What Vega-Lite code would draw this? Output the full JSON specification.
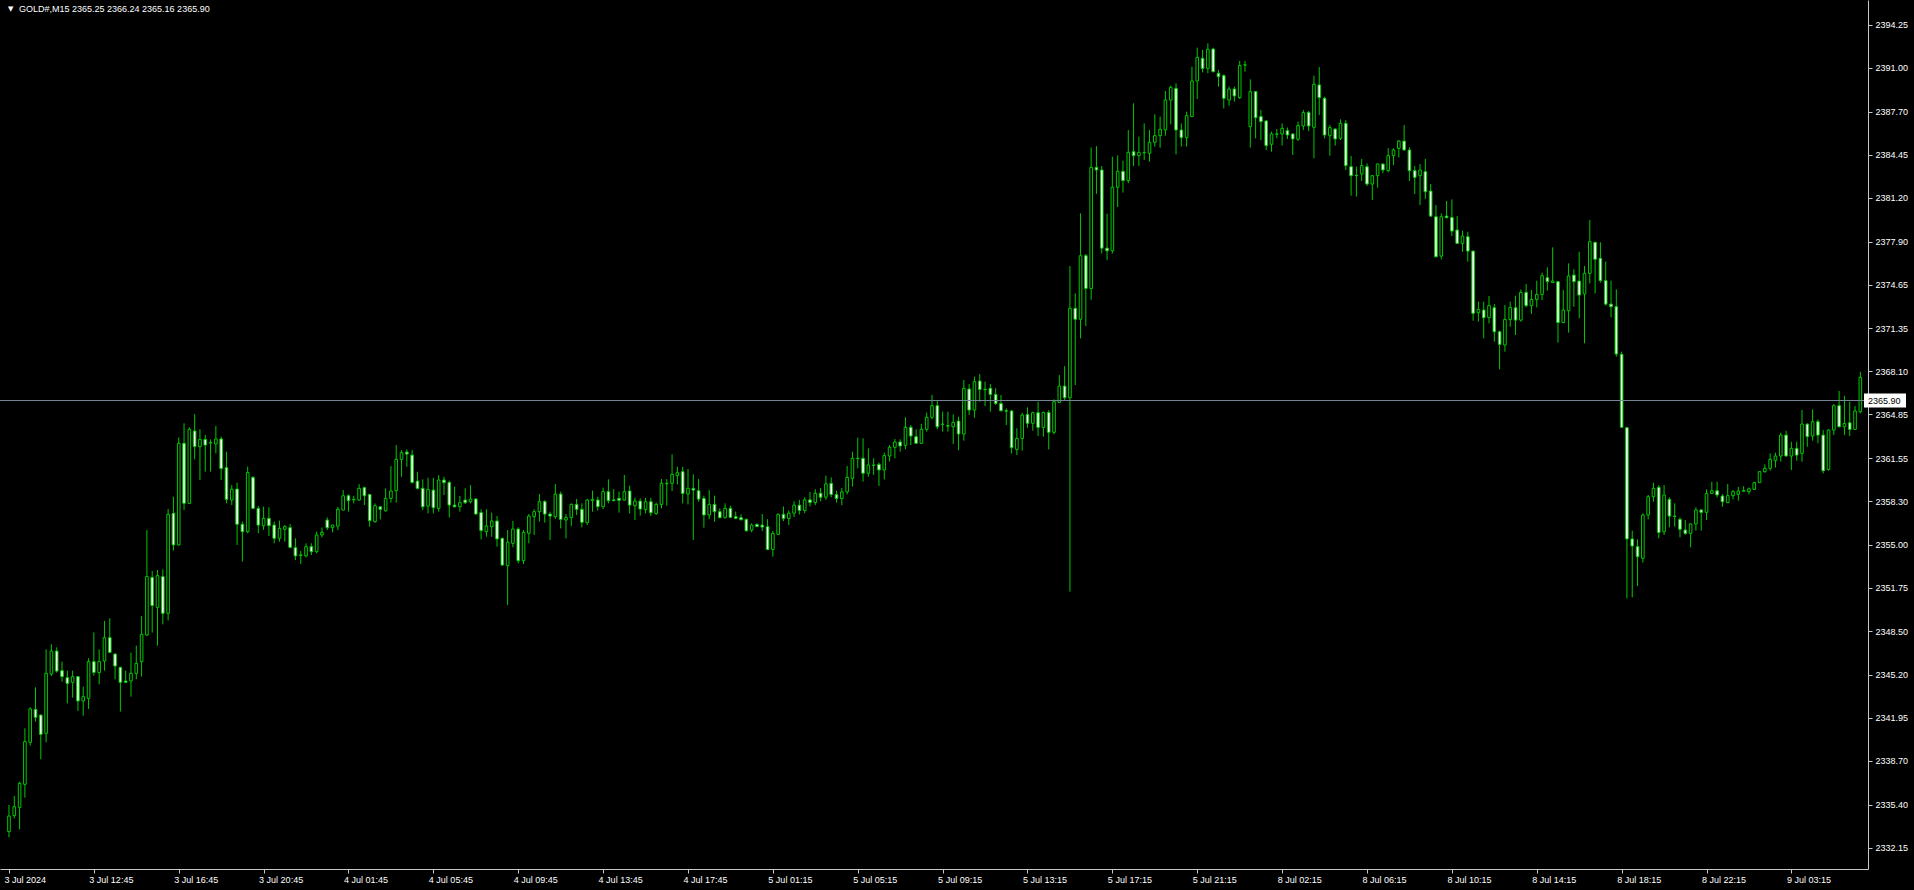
{
"$schema": "https://vega.github.io/schema/vega-lite/v6.json",
"width": 1868, "height": 869,
"autosize": {"type": "none"},
"padding": {"left": 0, "top": 0, "right": 46, "bottom": 21},
"background": "#000000",
"config": {"view": {"stroke": null}, "font": "Liberation Sans"},
"data": {"values": [
{"i":0,"o":2333.36,"h":2335.37,"l":2332.93,"c":2334.54},
{"i":1,"o":2334.57,"h":2336.05,"l":2334.36,"c":2335.24},
{"i":2,"o":2335.19,"h":2337.13,"l":2333.53,"c":2337.01},
{"i":3,"o":2336.93,"h":2341.16,"l":2335.92,"c":2340.15},
{"i":4,"o":2340.10,"h":2342.74,"l":2339.85,"c":2342.62},
{"i":5,"o":2342.59,"h":2344.25,"l":2341.66,"c":2341.99},
{"i":6,"o":2342.16,"h":2342.20,"l":2338.82,"c":2340.70},
{"i":7,"o":2340.78,"h":2347.12,"l":2340.10,"c":2345.31},
{"i":8,"o":2345.26,"h":2347.50,"l":2345.11,"c":2346.99},
{"i":9,"o":2346.99,"h":2347.27,"l":2345.36,"c":2345.48},
{"i":10,"o":2345.51,"h":2346.19,"l":2344.68,"c":2345.06},
{"i":11,"o":2344.98,"h":2345.51,"l":2343.04,"c":2344.55},
{"i":12,"o":2344.63,"h":2345.51,"l":2343.47,"c":2345.06},
{"i":13,"o":2345.06,"h":2345.11,"l":2342.47,"c":2343.22},
{"i":14,"o":2343.22,"h":2344.30,"l":2342.11,"c":2343.55},
{"i":15,"o":2343.42,"h":2346.44,"l":2342.62,"c":2346.19},
{"i":16,"o":2346.19,"h":2348.40,"l":2345.13,"c":2345.38},
{"i":17,"o":2345.36,"h":2347.12,"l":2344.48,"c":2346.19},
{"i":18,"o":2346.24,"h":2349.26,"l":2345.51,"c":2348.00},
{"i":19,"o":2348.00,"h":2349.46,"l":2346.85,"c":2346.89},
{"i":20,"o":2346.77,"h":2346.80,"l":2344.86,"c":2345.86},
{"i":21,"o":2345.76,"h":2345.80,"l":2342.42,"c":2344.63},
{"i":22,"o":2344.73,"h":2345.51,"l":2344.60,"c":2344.63},
{"i":23,"o":2344.73,"h":2346.87,"l":2343.55,"c":2345.31},
{"i":24,"o":2345.31,"h":2347.40,"l":2344.86,"c":2346.06},
{"i":25,"o":2346.19,"h":2349.64,"l":2345.06,"c":2348.25},
{"i":26,"o":2348.20,"h":2356.13,"l":2348.13,"c":2352.61},
{"i":27,"o":2352.55,"h":2353.03,"l":2348.38,"c":2350.42},
{"i":28,"o":2350.29,"h":2353.11,"l":2347.40,"c":2352.68},
{"i":29,"o":2352.61,"h":2353.16,"l":2349.01,"c":2349.84},
{"i":30,"o":2349.84,"h":2357.71,"l":2349.30,"c":2357.31},
{"i":31,"o":2357.39,"h":2358.64,"l":2354.57,"c":2355.00},
{"i":32,"o":2355.00,"h":2363.12,"l":2354.95,"c":2362.67},
{"i":33,"o":2362.67,"h":2364.18,"l":2357.64,"c":2358.14},
{"i":34,"o":2358.14,"h":2363.88,"l":2358.09,"c":2363.73},
{"i":35,"o":2363.60,"h":2364.88,"l":2361.46,"c":2362.42},
{"i":36,"o":2362.42,"h":2363.73,"l":2359.90,"c":2362.97},
{"i":37,"o":2362.97,"h":2363.30,"l":2360.53,"c":2362.54},
{"i":38,"o":2362.72,"h":2362.97,"l":2360.53,"c":2362.70},
{"i":39,"o":2362.62,"h":2363.98,"l":2361.91,"c":2363.00},
{"i":40,"o":2363.00,"h":2363.17,"l":2359.90,"c":2360.76},
{"i":41,"o":2360.83,"h":2362.04,"l":2358.14,"c":2358.44},
{"i":42,"o":2358.39,"h":2359.52,"l":2358.01,"c":2359.20},
{"i":43,"o":2359.22,"h":2359.70,"l":2355.00,"c":2356.56},
{"i":44,"o":2356.56,"h":2356.76,"l":2353.74,"c":2356.00},
{"i":45,"o":2356.00,"h":2360.91,"l":2355.88,"c":2360.46},
{"i":46,"o":2360.10,"h":2360.20,"l":2357.69,"c":2357.76},
{"i":47,"o":2357.76,"h":2357.94,"l":2355.88,"c":2356.50},
{"i":48,"o":2356.45,"h":2357.89,"l":2356.13,"c":2357.01},
{"i":49,"o":2357.01,"h":2357.84,"l":2355.67,"c":2356.45},
{"i":50,"o":2356.50,"h":2356.76,"l":2355.12,"c":2355.50},
{"i":51,"o":2355.50,"h":2356.83,"l":2355.25,"c":2356.25},
{"i":52,"o":2356.18,"h":2356.50,"l":2355.25,"c":2356.38},
{"i":53,"o":2356.30,"h":2356.58,"l":2354.74,"c":2354.82},
{"i":54,"o":2354.79,"h":2355.50,"l":2353.86,"c":2354.17},
{"i":55,"o":2354.20,"h":2354.54,"l":2353.56,"c":2354.25},
{"i":56,"o":2354.17,"h":2355.12,"l":2354.06,"c":2354.87},
{"i":57,"o":2354.87,"h":2355.12,"l":2354.24,"c":2354.49},
{"i":58,"o":2354.49,"h":2356.00,"l":2354.37,"c":2355.75},
{"i":59,"o":2355.75,"h":2356.32,"l":2355.57,"c":2355.95},
{"i":60,"o":2356.88,"h":2357.08,"l":2356.12,"c":2356.30},
{"i":61,"o":2356.30,"h":2356.50,"l":2355.95,"c":2356.50},
{"i":62,"o":2356.42,"h":2357.88,"l":2356.12,"c":2357.68},
{"i":63,"o":2357.63,"h":2359.14,"l":2357.63,"c":2358.71},
{"i":64,"o":2358.71,"h":2358.81,"l":2357.51,"c":2358.34},
{"i":65,"o":2358.40,"h":2358.71,"l":2358.13,"c":2358.45},
{"i":66,"o":2358.39,"h":2359.59,"l":2358.34,"c":2359.27},
{"i":67,"o":2359.32,"h":2359.39,"l":2358.01,"c":2358.71},
{"i":68,"o":2358.81,"h":2358.85,"l":2356.37,"c":2356.83},
{"i":69,"o":2356.75,"h":2358.13,"l":2356.68,"c":2357.96},
{"i":70,"o":2357.88,"h":2357.93,"l":2356.93,"c":2357.68},
{"i":71,"o":2357.58,"h":2359.27,"l":2357.51,"c":2358.51},
{"i":72,"o":2358.51,"h":2360.95,"l":2358.19,"c":2359.07},
{"i":73,"o":2359.09,"h":2362.54,"l":2358.19,"c":2361.46},
{"i":74,"o":2361.46,"h":2362.16,"l":2360.15,"c":2361.96},
{"i":75,"o":2362.01,"h":2362.21,"l":2360.90,"c":2361.86},
{"i":76,"o":2361.78,"h":2362.16,"l":2359.64,"c":2359.72},
{"i":77,"o":2359.82,"h":2360.52,"l":2359.19,"c":2359.27},
{"i":78,"o":2359.27,"h":2359.95,"l":2357.63,"c":2357.88},
{"i":79,"o":2357.93,"h":2360.07,"l":2357.38,"c":2359.19},
{"i":80,"o":2359.14,"h":2360.07,"l":2357.38,"c":2357.81},
{"i":81,"o":2357.76,"h":2360.27,"l":2357.51,"c":2359.90},
{"i":82,"o":2359.90,"h":2360.15,"l":2358.76,"c":2359.70},
{"i":83,"o":2359.72,"h":2359.85,"l":2357.08,"c":2358.01},
{"i":84,"o":2358.01,"h":2359.39,"l":2357.83,"c":2357.88},
{"i":85,"o":2357.88,"h":2358.69,"l":2357.51,"c":2358.19},
{"i":86,"o":2358.39,"h":2359.27,"l":2358.08,"c":2358.19},
{"i":87,"o":2358.26,"h":2359.52,"l":2358.13,"c":2358.46},
{"i":88,"o":2358.47,"h":2358.50,"l":2357.30,"c":2357.33},
{"i":89,"o":2357.44,"h":2357.69,"l":2355.42,"c":2356.08},
{"i":90,"o":2356.00,"h":2357.69,"l":2355.62,"c":2356.43},
{"i":91,"o":2356.38,"h":2357.44,"l":2355.62,"c":2356.81},
{"i":92,"o":2356.81,"h":2357.18,"l":2354.87,"c":2355.45},
{"i":93,"o":2355.50,"h":2355.55,"l":2353.45,"c":2353.48},
{"i":94,"o":2353.43,"h":2356.13,"l":2350.47,"c":2355.20},
{"i":95,"o":2355.12,"h":2356.81,"l":2354.82,"c":2356.20},
{"i":96,"o":2356.20,"h":2356.33,"l":2353.61,"c":2353.81},
{"i":97,"o":2353.81,"h":2356.13,"l":2353.56,"c":2355.95},
{"i":98,"o":2355.88,"h":2357.33,"l":2355.12,"c":2357.18},
{"i":99,"o":2357.13,"h":2357.69,"l":2355.75,"c":2357.51},
{"i":100,"o":2357.51,"h":2358.84,"l":2356.76,"c":2358.27},
{"i":101,"o":2358.27,"h":2358.39,"l":2356.68,"c":2357.33},
{"i":102,"o":2357.33,"h":2357.51,"l":2355.37,"c":2357.18},
{"i":103,"o":2357.13,"h":2359.60,"l":2356.96,"c":2358.84},
{"i":104,"o":2358.84,"h":2359.02,"l":2356.25,"c":2356.93},
{"i":105,"o":2356.88,"h":2357.33,"l":2355.50,"c":2357.08},
{"i":106,"o":2357.06,"h":2358.14,"l":2356.43,"c":2358.06},
{"i":107,"o":2358.06,"h":2358.47,"l":2357.26,"c":2357.69},
{"i":108,"o":2357.69,"h":2358.14,"l":2356.33,"c":2356.71},
{"i":109,"o":2356.68,"h":2358.47,"l":2356.50,"c":2358.39},
{"i":110,"o":2358.34,"h":2359.10,"l":2357.51,"c":2358.44},
{"i":111,"o":2358.39,"h":2358.64,"l":2357.59,"c":2357.89},
{"i":112,"o":2357.89,"h":2359.32,"l":2357.71,"c":2359.02},
{"i":113,"o":2359.02,"h":2359.95,"l":2358.14,"c":2358.34},
{"i":114,"o":2358.40,"h":2359.20,"l":2358.30,"c":2358.34},
{"i":115,"o":2358.52,"h":2359.02,"l":2357.44,"c":2358.37},
{"i":116,"o":2358.39,"h":2360.28,"l":2358.34,"c":2359.02},
{"i":117,"o":2359.07,"h":2359.47,"l":2357.38,"c":2358.01},
{"i":118,"o":2357.96,"h":2358.56,"l":2356.88,"c":2358.31},
{"i":119,"o":2358.31,"h":2358.51,"l":2357.21,"c":2357.71},
{"i":120,"o":2357.68,"h":2358.56,"l":2357.38,"c":2358.26},
{"i":121,"o":2358.26,"h":2358.56,"l":2357.18,"c":2357.43},
{"i":122,"o":2357.38,"h":2358.19,"l":2357.26,"c":2358.06},
{"i":123,"o":2358.06,"h":2359.97,"l":2357.76,"c":2359.65},
{"i":124,"o":2359.62,"h":2359.97,"l":2357.96,"c":2359.65},
{"i":125,"o":2359.65,"h":2361.84,"l":2359.07,"c":2360.33},
{"i":126,"o":2360.23,"h":2360.90,"l":2359.57,"c":2360.45},
{"i":127,"o":2360.53,"h":2360.90,"l":2358.14,"c":2358.89},
{"i":128,"o":2358.84,"h":2360.73,"l":2358.06,"c":2359.27},
{"i":129,"o":2359.27,"h":2360.33,"l":2355.37,"c":2359.14},
{"i":130,"o":2359.09,"h":2359.97,"l":2358.26,"c":2358.46},
{"i":131,"o":2358.51,"h":2358.72,"l":2356.30,"c":2357.26},
{"i":132,"o":2357.26,"h":2359.14,"l":2356.95,"c":2358.06},
{"i":133,"o":2358.06,"h":2358.72,"l":2356.75,"c":2357.51},
{"i":134,"o":2357.51,"h":2357.76,"l":2357.00,"c":2357.06},
{"i":135,"o":2357.06,"h":2358.14,"l":2357.00,"c":2357.76},
{"i":136,"o":2357.76,"h":2357.96,"l":2357.05,"c":2357.08},
{"i":137,"o":2357.13,"h":2357.51,"l":2356.95,"c":2357.00},
{"i":138,"o":2357.06,"h":2357.31,"l":2356.85,"c":2356.90},
{"i":139,"o":2356.93,"h":2357.00,"l":2356.00,"c":2356.07},
{"i":140,"o":2356.12,"h":2356.63,"l":2355.95,"c":2356.50},
{"i":141,"o":2356.55,"h":2356.63,"l":2356.35,"c":2356.38},
{"i":142,"o":2356.50,"h":2357.33,"l":2356.05,"c":2356.35},
{"i":143,"o":2356.38,"h":2356.95,"l":2354.60,"c":2354.66},
{"i":144,"o":2354.66,"h":2356.05,"l":2354.11,"c":2355.87},
{"i":145,"o":2355.80,"h":2357.38,"l":2355.75,"c":2357.31},
{"i":146,"o":2357.31,"h":2357.90,"l":2356.80,"c":2357.00},
{"i":147,"o":2357.00,"h":2357.60,"l":2356.50,"c":2357.40},
{"i":148,"o":2357.40,"h":2358.30,"l":2357.10,"c":2358.00},
{"i":149,"o":2358.00,"h":2358.40,"l":2357.30,"c":2357.60},
{"i":150,"o":2357.60,"h":2358.60,"l":2357.40,"c":2358.40},
{"i":151,"o":2358.40,"h":2359.00,"l":2357.90,"c":2358.20},
{"i":152,"o":2358.20,"h":2359.20,"l":2358.00,"c":2358.90},
{"i":153,"o":2358.90,"h":2359.30,"l":2358.30,"c":2358.60},
{"i":154,"o":2358.60,"h":2360.23,"l":2358.40,"c":2359.60},
{"i":155,"o":2359.65,"h":2360.10,"l":2358.60,"c":2358.80},
{"i":156,"o":2358.80,"h":2359.10,"l":2358.20,"c":2358.50},
{"i":157,"o":2358.50,"h":2359.30,"l":2358.00,"c":2359.00},
{"i":158,"o":2359.00,"h":2360.96,"l":2358.80,"c":2360.10},
{"i":159,"o":2360.03,"h":2362.04,"l":2359.40,"c":2361.54},
{"i":160,"o":2361.50,"h":2363.10,"l":2360.78,"c":2361.54},
{"i":161,"o":2361.54,"h":2363.05,"l":2359.78,"c":2360.41},
{"i":162,"o":2360.41,"h":2362.29,"l":2360.15,"c":2361.03},
{"i":163,"o":2361.00,"h":2361.54,"l":2360.28,"c":2361.03},
{"i":164,"o":2361.08,"h":2361.21,"l":2359.45,"c":2360.66},
{"i":165,"o":2360.66,"h":2361.97,"l":2359.95,"c":2361.74},
{"i":166,"o":2361.71,"h":2362.54,"l":2361.29,"c":2362.37},
{"i":167,"o":2362.37,"h":2363.00,"l":2361.54,"c":2362.77},
{"i":168,"o":2362.77,"h":2362.97,"l":2362.04,"c":2362.47},
{"i":169,"o":2362.52,"h":2364.63,"l":2362.22,"c":2363.88},
{"i":170,"o":2363.88,"h":2364.05,"l":2362.54,"c":2363.22},
{"i":171,"o":2363.17,"h":2363.73,"l":2362.65,"c":2362.67},
{"i":172,"o":2362.67,"h":2364.13,"l":2362.62,"c":2363.73},
{"i":173,"o":2363.73,"h":2364.98,"l":2363.55,"c":2364.63},
{"i":174,"o":2364.63,"h":2366.32,"l":2364.48,"c":2365.51},
{"i":175,"o":2365.51,"h":2365.94,"l":2363.72,"c":2363.92},
{"i":176,"o":2364.10,"h":2365.06,"l":2363.55,"c":2364.12},
{"i":177,"o":2364.00,"h":2365.06,"l":2363.55,"c":2363.97},
{"i":178,"o":2363.92,"h":2364.85,"l":2362.62,"c":2364.25},
{"i":179,"o":2364.35,"h":2364.68,"l":2362.16,"c":2363.37},
{"i":180,"o":2363.37,"h":2367.45,"l":2362.87,"c":2366.82},
{"i":181,"o":2366.77,"h":2367.14,"l":2364.80,"c":2365.18},
{"i":182,"o":2365.18,"h":2367.70,"l":2364.60,"c":2367.32},
{"i":183,"o":2367.37,"h":2367.90,"l":2365.81,"c":2366.74},
{"i":184,"o":2366.75,"h":2367.32,"l":2365.48,"c":2366.72},
{"i":185,"o":2366.82,"h":2367.14,"l":2365.06,"c":2366.36},
{"i":186,"o":2366.36,"h":2366.82,"l":2365.56,"c":2365.68},
{"i":187,"o":2365.68,"h":2366.31,"l":2365.06,"c":2365.13},
{"i":188,"o":2365.13,"h":2365.31,"l":2364.05,"c":2365.10},
{"i":189,"o":2365.11,"h":2365.18,"l":2361.91,"c":2362.34},
{"i":190,"o":2362.21,"h":2363.80,"l":2361.78,"c":2363.04},
{"i":191,"o":2363.04,"h":2364.98,"l":2362.11,"c":2364.80},
{"i":192,"o":2364.85,"h":2365.38,"l":2363.85,"c":2364.18},
{"i":193,"o":2364.18,"h":2365.06,"l":2363.62,"c":2364.98},
{"i":194,"o":2364.98,"h":2365.81,"l":2363.22,"c":2363.87},
{"i":195,"o":2363.87,"h":2365.06,"l":2363.17,"c":2365.00},
{"i":196,"o":2365.00,"h":2365.18,"l":2362.21,"c":2363.50},
{"i":197,"o":2363.50,"h":2365.99,"l":2363.34,"c":2365.81},
{"i":198,"o":2365.76,"h":2367.82,"l":2365.73,"c":2366.99},
{"i":199,"o":2366.99,"h":2368.50,"l":2365.94,"c":2366.11},
{"i":200,"o":2366.11,"h":2376.05,"l":2351.47,"c":2372.86},
{"i":201,"o":2372.86,"h":2373.99,"l":2367.07,"c":2372.03},
{"i":202,"o":2372.03,"h":2380.03,"l":2370.59,"c":2376.83},
{"i":203,"o":2376.83,"h":2376.96,"l":2371.52,"c":2374.36},
{"i":204,"o":2374.36,"h":2385.00,"l":2373.50,"c":2383.50},
{"i":205,"o":2383.50,"h":2385.10,"l":2381.50,"c":2383.30},
{"i":206,"o":2383.30,"h":2383.60,"l":2377.00,"c":2377.40},
{"i":207,"o":2377.40,"h":2380.00,"l":2376.50,"c":2377.20},
{"i":208,"o":2377.20,"h":2384.30,"l":2377.00,"c":2382.00},
{"i":209,"o":2382.00,"h":2384.40,"l":2380.50,"c":2383.20},
{"i":210,"o":2383.20,"h":2384.00,"l":2381.60,"c":2382.50},
{"i":211,"o":2382.50,"h":2386.32,"l":2382.30,"c":2384.63},
{"i":212,"o":2384.68,"h":2388.33,"l":2383.60,"c":2384.38},
{"i":213,"o":2384.38,"h":2385.82,"l":2383.60,"c":2384.63},
{"i":214,"o":2384.60,"h":2386.82,"l":2384.05,"c":2384.62},
{"i":215,"o":2384.56,"h":2386.32,"l":2383.93,"c":2385.39},
{"i":216,"o":2385.39,"h":2387.50,"l":2385.06,"c":2385.89},
{"i":217,"o":2385.89,"h":2387.33,"l":2384.98,"c":2386.37},
{"i":218,"o":2386.32,"h":2389.26,"l":2385.89,"c":2388.58},
{"i":219,"o":2388.58,"h":2389.67,"l":2386.75,"c":2389.54},
{"i":220,"o":2389.46,"h":2389.84,"l":2384.48,"c":2386.32},
{"i":221,"o":2386.32,"h":2386.82,"l":2385.06,"c":2385.74},
{"i":222,"o":2385.74,"h":2387.70,"l":2385.06,"c":2387.40},
{"i":223,"o":2387.33,"h":2391.10,"l":2387.33,"c":2390.02},
{"i":224,"o":2390.02,"h":2392.53,"l":2388.66,"c":2391.80},
{"i":225,"o":2391.73,"h":2392.36,"l":2390.67,"c":2390.97},
{"i":226,"o":2390.97,"h":2392.86,"l":2390.60,"c":2392.41},
{"i":227,"o":2392.43,"h":2392.53,"l":2390.67,"c":2390.72},
{"i":228,"o":2390.60,"h":2390.85,"l":2389.59,"c":2390.34},
{"i":229,"o":2390.42,"h":2390.52,"l":2387.95,"c":2388.71},
{"i":230,"o":2388.58,"h":2389.59,"l":2388.16,"c":2389.41},
{"i":231,"o":2389.41,"h":2389.59,"l":2388.46,"c":2388.89},
{"i":232,"o":2388.76,"h":2391.53,"l":2388.66,"c":2391.18},
{"i":233,"o":2391.22,"h":2391.53,"l":2390.72,"c":2391.24},
{"i":234,"o":2386.57,"h":2390.14,"l":2384.99,"c":2389.21},
{"i":235,"o":2389.21,"h":2389.26,"l":2385.69,"c":2387.25},
{"i":236,"o":2387.33,"h":2387.83,"l":2385.56,"c":2386.95},
{"i":237,"o":2387.00,"h":2387.07,"l":2384.81,"c":2385.14},
{"i":238,"o":2385.24,"h":2386.19,"l":2384.68,"c":2386.02},
{"i":239,"o":2386.00,"h":2386.39,"l":2385.69,"c":2386.02},
{"i":240,"o":2386.02,"h":2386.82,"l":2385.14,"c":2386.44},
{"i":241,"o":2386.27,"h":2386.50,"l":2385.64,"c":2385.94},
{"i":242,"o":2386.02,"h":2386.05,"l":2384.43,"c":2385.64},
{"i":243,"o":2385.62,"h":2386.95,"l":2385.49,"c":2386.65},
{"i":244,"o":2386.62,"h":2387.83,"l":2386.32,"c":2387.63},
{"i":245,"o":2387.65,"h":2387.75,"l":2386.24,"c":2386.62},
{"i":246,"o":2386.52,"h":2390.42,"l":2384.18,"c":2389.77},
{"i":247,"o":2389.72,"h":2391.07,"l":2387.45,"c":2388.76},
{"i":248,"o":2388.71,"h":2388.83,"l":2385.69,"c":2385.94},
{"i":249,"o":2385.89,"h":2386.70,"l":2384.38,"c":2386.50},
{"i":250,"o":2386.39,"h":2386.45,"l":2385.14,"c":2385.64},
{"i":251,"o":2385.69,"h":2387.12,"l":2385.56,"c":2386.82},
{"i":252,"o":2386.82,"h":2387.07,"l":2383.30,"c":2383.63},
{"i":253,"o":2383.55,"h":2384.36,"l":2381.36,"c":2382.87},
{"i":254,"o":2382.90,"h":2383.55,"l":2381.29,"c":2382.87},
{"i":255,"o":2383.00,"h":2384.13,"l":2382.47,"c":2383.63},
{"i":256,"o":2383.55,"h":2383.80,"l":2382.09,"c":2382.24},
{"i":257,"o":2382.24,"h":2382.90,"l":2381.04,"c":2382.87},
{"i":258,"o":2382.87,"h":2383.80,"l":2381.97,"c":2383.75},
{"i":259,"o":2383.75,"h":2383.80,"l":2383.05,"c":2383.30},
{"i":260,"o":2383.25,"h":2384.94,"l":2383.12,"c":2384.38},
{"i":261,"o":2384.38,"h":2384.94,"l":2383.68,"c":2384.81},
{"i":262,"o":2384.93,"h":2385.56,"l":2384.25,"c":2385.48},
{"i":263,"o":2385.48,"h":2386.69,"l":2384.76,"c":2384.81},
{"i":264,"o":2384.81,"h":2385.01,"l":2382.47,"c":2383.25},
{"i":265,"o":2383.25,"h":2383.60,"l":2381.48,"c":2382.74},
{"i":266,"o":2382.87,"h":2383.75,"l":2380.65,"c":2383.30},
{"i":267,"o":2383.17,"h":2384.13,"l":2381.11,"c":2381.66},
{"i":268,"o":2381.71,"h":2382.24,"l":2379.77,"c":2379.82},
{"i":269,"o":2379.77,"h":2380.65,"l":2376.70,"c":2376.75},
{"i":270,"o":2376.80,"h":2380.03,"l":2376.55,"c":2379.77},
{"i":271,"o":2379.82,"h":2380.96,"l":2379.65,"c":2379.70},
{"i":272,"o":2379.72,"h":2381.08,"l":2378.31,"c":2378.69},
{"i":273,"o":2378.77,"h":2379.82,"l":2377.71,"c":2377.76},
{"i":274,"o":2377.76,"h":2378.72,"l":2377.13,"c":2378.31},
{"i":275,"o":2378.26,"h":2378.64,"l":2376.38,"c":2377.18},
{"i":276,"o":2377.18,"h":2377.20,"l":2371.92,"c":2372.48},
{"i":277,"o":2372.53,"h":2373.36,"l":2371.85,"c":2372.78},
{"i":278,"o":2372.73,"h":2373.36,"l":2370.59,"c":2372.15},
{"i":279,"o":2372.15,"h":2373.79,"l":2371.72,"c":2373.06},
{"i":280,"o":2372.90,"h":2373.18,"l":2370.34,"c":2371.09},
{"i":281,"o":2371.09,"h":2371.17,"l":2368.25,"c":2370.14},
{"i":282,"o":2370.09,"h":2373.11,"l":2369.58,"c":2372.02},
{"i":283,"o":2372.02,"h":2373.36,"l":2371.47,"c":2372.93},
{"i":284,"o":2372.90,"h":2373.81,"l":2370.84,"c":2371.97},
{"i":285,"o":2371.97,"h":2374.29,"l":2371.85,"c":2374.06},
{"i":286,"o":2374.06,"h":2374.69,"l":2372.93,"c":2373.06},
{"i":287,"o":2373.06,"h":2374.24,"l":2372.43,"c":2373.53},
{"i":288,"o":2373.53,"h":2374.94,"l":2372.93,"c":2373.91},
{"i":289,"o":2373.91,"h":2375.55,"l":2373.48,"c":2375.32},
{"i":290,"o":2375.17,"h":2375.95,"l":2374.19,"c":2374.87},
{"i":291,"o":2374.80,"h":2377.46,"l":2374.80,"c":2374.92},
{"i":292,"o":2374.87,"h":2374.90,"l":2370.27,"c":2371.78},
{"i":293,"o":2371.78,"h":2374.24,"l":2371.73,"c":2372.73},
{"i":294,"o":2372.68,"h":2376.25,"l":2371.02,"c":2375.30},
{"i":295,"o":2375.37,"h":2375.80,"l":2372.98,"c":2374.87},
{"i":296,"o":2374.92,"h":2377.13,"l":2372.10,"c":2373.86},
{"i":297,"o":2373.94,"h":2376.05,"l":2370.22,"c":2375.50},
{"i":298,"o":2375.50,"h":2379.53,"l":2374.74,"c":2377.89},
{"i":299,"o":2377.84,"h":2377.89,"l":2373.99,"c":2376.56},
{"i":300,"o":2376.63,"h":2377.84,"l":2374.80,"c":2374.95},
{"i":301,"o":2374.95,"h":2376.38,"l":2373.06,"c":2373.18},
{"i":302,"o":2373.18,"h":2374.95,"l":2372.18,"c":2372.98},
{"i":303,"o":2372.98,"h":2374.29,"l":2369.21,"c":2369.41},
{"i":304,"o":2369.39,"h":2369.59,"l":2363.85,"c":2363.88},
{"i":305,"o":2363.85,"h":2363.88,"l":2350.97,"c":2355.45},
{"i":306,"o":2355.45,"h":2356.08,"l":2351.04,"c":2354.92},
{"i":307,"o":2354.87,"h":2355.42,"l":2351.90,"c":2354.11},
{"i":308,"o":2353.99,"h":2357.38,"l":2353.66,"c":2357.26},
{"i":309,"o":2357.26,"h":2358.77,"l":2356.93,"c":2358.64},
{"i":310,"o":2358.64,"h":2359.70,"l":2358.27,"c":2359.27},
{"i":311,"o":2359.35,"h":2359.52,"l":2355.50,"c":2355.93},
{"i":312,"o":2356.00,"h":2359.52,"l":2355.75,"c":2358.77},
{"i":313,"o":2358.44,"h":2358.59,"l":2356.33,"c":2357.18},
{"i":314,"o":2357.18,"h":2358.14,"l":2356.38,"c":2357.15},
{"i":315,"o":2356.93,"h":2357.08,"l":2355.57,"c":2356.18},
{"i":316,"o":2356.13,"h":2356.88,"l":2355.75,"c":2355.87},
{"i":317,"o":2355.87,"h":2356.63,"l":2354.82,"c":2356.58},
{"i":318,"o":2356.58,"h":2357.84,"l":2356.08,"c":2357.64},
{"i":319,"o":2357.64,"h":2357.69,"l":2356.08,"c":2357.46},
{"i":320,"o":2357.46,"h":2359.19,"l":2356.88,"c":2358.89},
{"i":321,"o":2358.89,"h":2359.77,"l":2358.84,"c":2359.09},
{"i":322,"o":2359.09,"h":2359.77,"l":2358.59,"c":2358.77},
{"i":323,"o":2358.69,"h":2358.84,"l":2357.88,"c":2358.26},
{"i":324,"o":2358.19,"h":2359.60,"l":2358.19,"c":2358.72},
{"i":325,"o":2358.72,"h":2359.14,"l":2358.44,"c":2359.02},
{"i":326,"o":2358.82,"h":2359.39,"l":2358.34,"c":2359.07},
{"i":327,"o":2359.05,"h":2359.44,"l":2359.02,"c":2359.10},
{"i":328,"o":2359.02,"h":2359.34,"l":2358.82,"c":2359.24},
{"i":329,"o":2359.19,"h":2359.77,"l":2359.14,"c":2359.70},
{"i":330,"o":2359.70,"h":2360.55,"l":2359.68,"c":2360.53},
{"i":331,"o":2360.53,"h":2361.08,"l":2360.45,"c":2360.78},
{"i":332,"o":2360.78,"h":2361.91,"l":2360.60,"c":2361.46},
{"i":333,"o":2361.36,"h":2361.96,"l":2360.85,"c":2361.71},
{"i":334,"o":2361.71,"h":2363.47,"l":2361.28,"c":2363.29},
{"i":335,"o":2363.29,"h":2363.62,"l":2361.66,"c":2361.71},
{"i":336,"o":2361.71,"h":2362.79,"l":2360.65,"c":2362.29},
{"i":337,"o":2362.29,"h":2362.79,"l":2361.36,"c":2361.78},
{"i":338,"o":2361.91,"h":2365.18,"l":2361.28,"c":2364.12},
{"i":339,"o":2364.12,"h":2364.17,"l":2362.41,"c":2363.17},
{"i":340,"o":2363.22,"h":2365.23,"l":2362.87,"c":2364.30},
{"i":341,"o":2364.30,"h":2364.48,"l":2362.67,"c":2363.29},
{"i":342,"o":2363.29,"h":2363.67,"l":2360.40,"c":2360.60},
{"i":343,"o":2360.70,"h":2363.72,"l":2360.60,"c":2363.67},
{"i":344,"o":2363.67,"h":2365.63,"l":2363.29,"c":2365.51},
{"i":345,"o":2365.51,"h":2366.62,"l":2363.87,"c":2363.92},
{"i":346,"o":2363.92,"h":2366.26,"l":2363.29,"c":2364.17},
{"i":347,"o":2364.22,"h":2365.81,"l":2363.22,"c":2363.72},
{"i":348,"o":2363.72,"h":2365.48,"l":2363.67,"c":2365.11},
{"i":349,"o":2365.06,"h":2368.07,"l":2364.93,"c":2367.65}
]},
"layer": [
{"mark": {"type": "rule", "color": "#00c800", "strokeWidth": 1},
 "encoding": {
  "x": {"field": "i", "type": "quantitative",
        "scale": {"domain": [-0.75, 349.5], "nice": false, "zero": false},
        "axis": {"orient": "bottom", "title": null, "values": [0,16,32,48,64,80,96,112,128,144,160,176,192,208,224,240,256,272,288,304,320,336],
                 "labelExpr": "['3 Jul 2024','3 Jul 12:45','3 Jul 16:45','3 Jul 20:45','4 Jul 01:45','4 Jul 05:45','4 Jul 09:45','4 Jul 13:45','4 Jul 17:45','5 Jul 01:15','5 Jul 05:15','5 Jul 09:15','5 Jul 13:15','5 Jul 17:15','5 Jul 21:15','8 Jul 02:15','8 Jul 06:15','8 Jul 10:15','8 Jul 14:15','8 Jul 18:15','8 Jul 22:15','9 Jul 03:15'][round(datum.value/16)]",
                 "labelAlign": "left", "labelOffset": -5, "labelColor": "#ffffff", "labelFont": "Liberation Sans", "labelFontSize": 9, "labelPadding": 2,
                 "domainColor": "#c8c8c8", "tickColor": "#c8c8c8", "tickSize": 4, "grid": false, "labelOverlap": false, "labelFlush": false}},
  "y": {"field": "l", "type": "quantitative",
        "scale": {"domain": [2330.54, 2396.13], "nice": false, "zero": false},
        "axis": {"orient": "right", "title": null, "values": [2394.25,2391.00,2387.70,2384.45,2381.20,2377.90,2374.65,2371.35,2368.10,2364.85,2361.55,2358.30,2355.00,2351.75,2348.50,2345.20,2341.95,2338.70,2335.40,2332.15],
                 "format": ".2f", "labelColor": "#ffffff", "labelFont": "Liberation Sans", "labelFontSize": 9, "labelPadding": 3,
                 "domainColor": "#c8c8c8", "tickColor": "#c8c8c8", "tickSize": 4, "grid": false, "labelOverlap": false, "labelFlush": false}},
  "y2": {"field": "h"}
 }},
{"mark": {"type": "bar", "width": 2.6, "stroke": "#00c800", "strokeWidth": 1},
 "encoding": {
  "x": {"field": "i", "type": "quantitative"},
  "y": {"field": "o", "type": "quantitative"},
  "y2": {"field": "c"},
  "fill": {"condition": {"test": "datum.c < datum.o", "value": "#ffffff"}, "value": "#000000"}
 }},
{"data": {"values": [{"p": 2365.90, "t": "2365.90"}]},
 "mark": {"type": "rule", "color": "#778899", "strokeWidth": 1},
 "encoding": {"y": {"field": "p", "type": "quantitative"}}},
{"data": {"values": [{"p": 2365.90, "t": "2365.90"}]},
 "mark": {"type": "rect", "fill": "#ffffff", "xOffset": 1, "x2Offset": 43, "yOffset": -7, "y2Offset": 7},
 "encoding": {"x": {"datum": 349.5}, "x2": {"datum": 349.5}, "y": {"field": "p", "type": "quantitative"}, "y2": {"field": "p"}}},
{"data": {"values": [{"p": 2365.90, "t": "2365.90"}]},
 "mark": {"type": "text", "align": "left", "baseline": "middle", "dx": 5, "fontSize": 9, "font": "Liberation Sans", "color": "#000000"},
 "encoding": {"x": {"datum": 349.5}, "y": {"field": "p", "type": "quantitative"}, "text": {"field": "t"}}},
{"data": {"values": [{"t": "GOLD#,M15  2365.25 2366.24 2365.16 2365.90"}]},
 "mark": {"type": "text", "align": "left", "baseline": "middle", "dx": 14, "dy": 9, "fontSize": 9, "font": "Liberation Sans", "color": "#ffffff"},
 "encoding": {"x": {"datum": -0.75}, "y": {"datum": 2396.13}, "text": {"field": "t"}}},
{"data": {"values": [{"t": "▼"}]},
 "mark": {"type": "text", "align": "left", "baseline": "middle", "dx": 3, "dy": 9, "fontSize": 7, "font": "DejaVu Sans", "color": "#ffffff"},
 "encoding": {"x": {"datum": -0.75}, "y": {"datum": 2396.13}, "text": {"field": "t"}}}
]
}
